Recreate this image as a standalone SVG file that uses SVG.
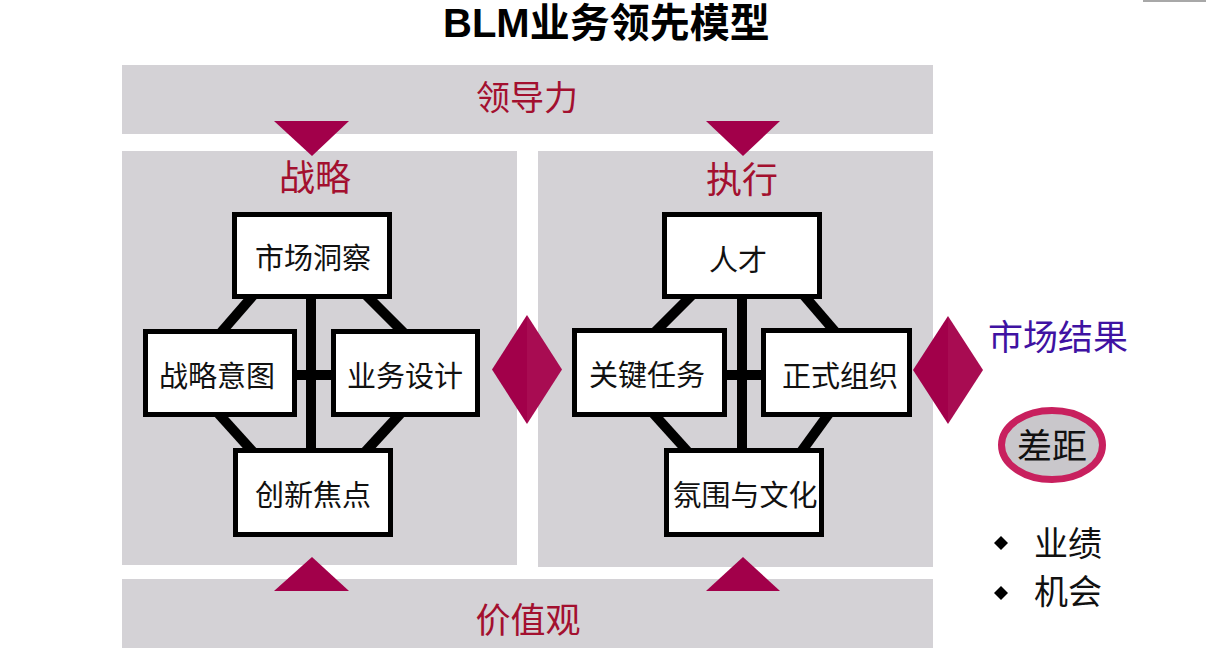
<svg xmlns="http://www.w3.org/2000/svg" width="1206" height="661" viewBox="0 0 1206 661">
<style>
.band{fill:#d4d2d6}
.tri{fill:#a2004a}
.tri2{fill:#a80c52}
.lbl{font-family:"Noto Sans CJK SC","Liberation Sans",sans-serif;fill:#a3102f;text-anchor:middle;dominant-baseline:central}
.box rect{fill:#ffffff;stroke:#000000;stroke-width:5}
.box text{font-family:"Noto Sans CJK SC","Liberation Sans",sans-serif;font-size:29px;fill:#111111;text-anchor:middle;dominant-baseline:central}
.conn line{stroke:#000000;stroke-width:10}
.side{font-family:"Noto Sans CJK SC","Liberation Sans",sans-serif;text-anchor:middle;dominant-baseline:central}
</style>
<rect width="1206" height="661" fill="#ffffff"/>
<rect x="1143" y="0" width="63" height="2" fill="#a8a8a8"/>
<text x="443" y="37" font-family="'Liberation Sans','Noto Sans CJK SC',sans-serif" font-weight="bold" font-size="40" fill="#000">BLM业务领先模型</text>

<g id="leadership">
<rect class="band" x="122" y="65" width="811" height="69"/>
<text class="lbl" x="527" y="95" font-size="34">领导力</text>
</g>
<g id="values">
<rect class="band" x="122" y="579" width="811" height="69"/>
<text class="lbl" x="528" y="617" font-size="35">价值观</text>
</g>
<g id="strategy">
<rect class="band" x="122" y="151" width="395" height="414"/>
<text class="lbl" x="315" y="175" font-size="36">战略</text>
</g>
<g id="execution">
<rect class="band" x="538" y="151" width="395" height="416"/>
<text class="lbl" x="742" y="177" font-size="36">执行</text>
</g>

<g id="arrows">
<polygon class="tri" points="274,121 349,121 312,156"/>
<polygon class="tri" points="706,121 780,121 743,156"/>
<polygon class="tri" points="274,591 349,591 312,557"/>
<polygon class="tri" points="706,591 780,591 743,557"/>
</g>

<g id="connectors" class="conn">
<line x1="311" y1="260" x2="311" y2="490"/>
<line x1="280" y1="375" x2="350" y2="375"/>
<line x1="263" y1="284" x2="211" y2="344"/>
<line x1="355" y1="284" x2="415" y2="344"/>
<line x1="207" y1="401" x2="263" y2="463"/>
<line x1="412" y1="401" x2="355" y2="463"/>
<line x1="742" y1="260" x2="742" y2="490"/>
<line x1="700" y1="375" x2="780" y2="375"/>
<line x1="702" y1="285" x2="645" y2="342"/>
<line x1="795" y1="285" x2="844" y2="342"/>
<line x1="642" y1="401" x2="698" y2="463"/>
<line x1="838" y1="401" x2="793" y2="463"/>
</g>

<g id="market-insight" class="box"><rect x="234.5" y="214.5" width="155" height="82"/><text x="313" y="256">市场洞察</text></g>
<g id="strategic-intent" class="box"><rect x="145.5" y="331.5" width="149" height="83"/><text x="217" y="374">战略意图</text></g>
<g id="business-design" class="box"><rect x="333.5" y="331.5" width="144" height="83"/><text x="405" y="374">业务设计</text></g>
<g id="innovation-focus" class="box"><rect x="235.5" y="450.5" width="155" height="84"/><text x="313" y="493">创新焦点</text></g>

<g id="talent" class="box"><rect x="664.5" y="214.5" width="155" height="82"/><text x="738" y="258">人才</text></g>
<g id="critical-tasks" class="box"><rect x="574.5" y="330.5" width="150" height="84"/><text x="647" y="373">关键任务</text></g>
<g id="formal-org" class="box"><rect x="763.5" y="330.5" width="146" height="84"/><text x="840" y="374">正式组织</text></g>
<g id="culture" class="box"><rect x="666.5" y="450.5" width="155" height="84"/><text x="745" y="493">氛围与文化</text></g>

<g id="diamond-mid">
<polygon class="tri" points="527,315 527,424 492,369.5"/>
<polygon class="tri2" points="527,315 562,369.5 527,424"/>
</g>
<g id="diamond-right">
<polygon class="tri" points="948,316 948,424 913,370"/>
<polygon class="tri2" points="948,316 983,370 948,424"/>
</g>

<g id="market-result">
<text class="side" x="1058" y="334" font-size="35" fill="#3f12a2">市场结果</text>
</g>
<g id="gap">
<ellipse cx="1052" cy="445" rx="50.5" ry="34.5" fill="#c9c7cb" stroke="#c8205e" stroke-width="7"/>
<text class="side" x="1052" y="443" font-size="35" fill="#111">差距</text>
</g>
<g id="bullets">
<polygon points="1001,536 1008,543 1001,550 994,543" fill="#000"/>
<text class="side" x="1068" y="541" font-size="34" fill="#111">业绩</text>
<polygon points="1001,586 1008,593 1001,600 994,593" fill="#000"/>
<text class="side" x="1068" y="589" font-size="34" fill="#111">机会</text>
</g>
</svg>
